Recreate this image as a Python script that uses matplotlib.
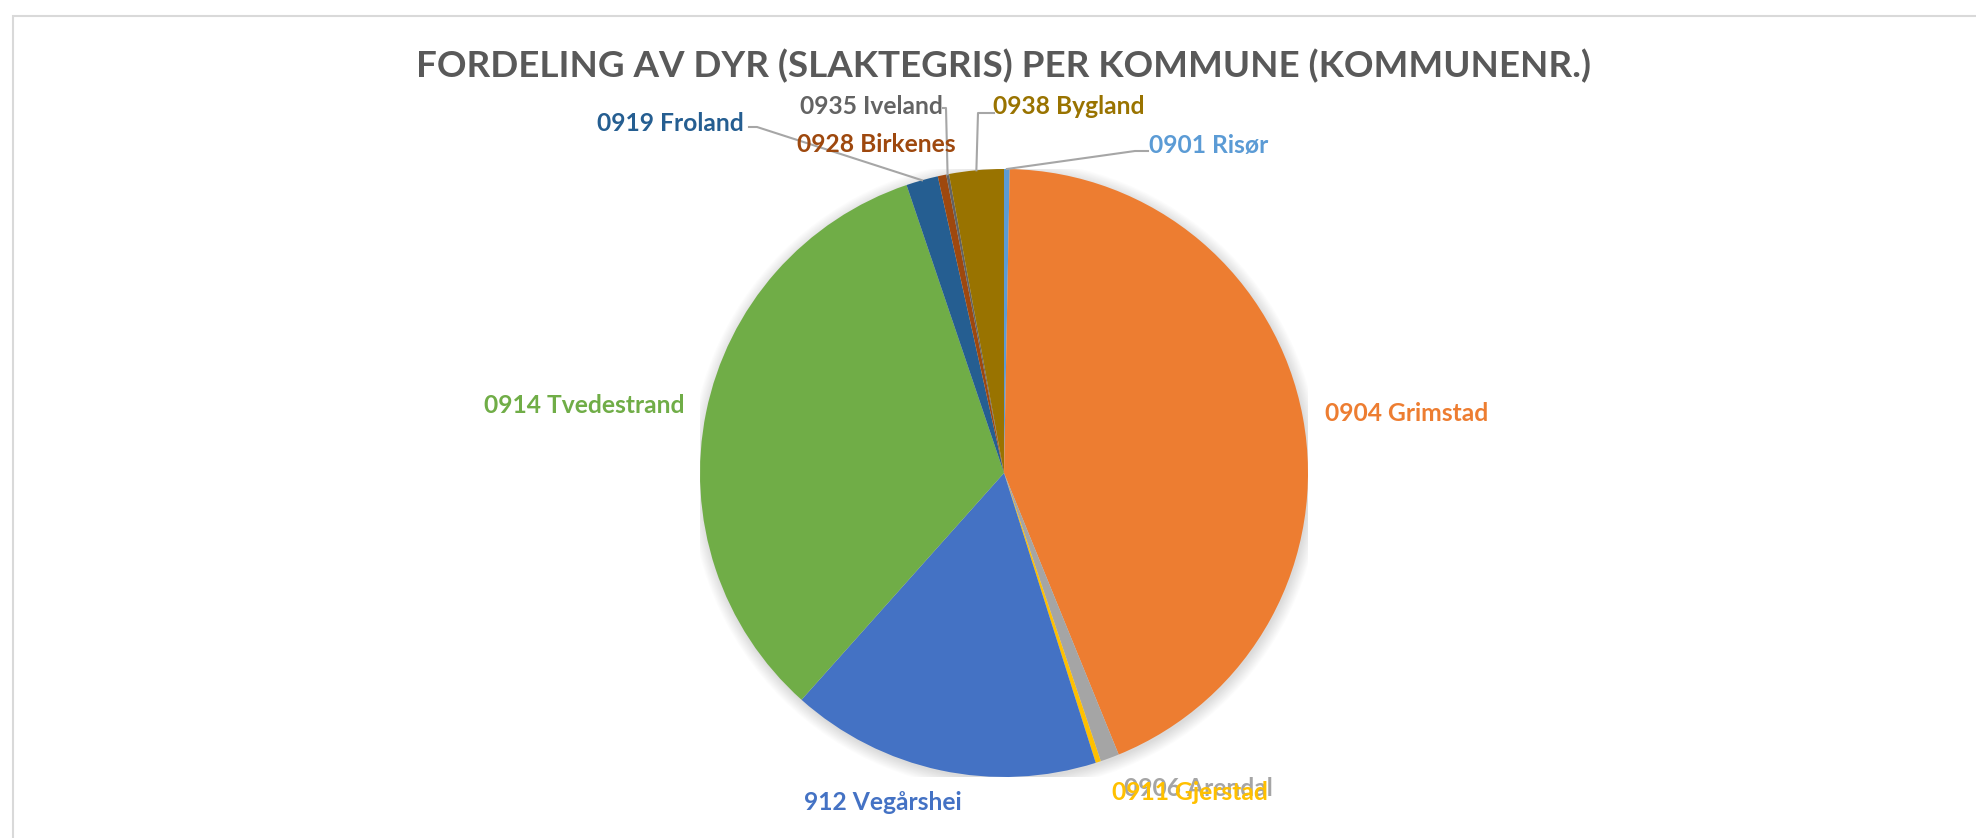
import matplotlib
matplotlib.use("Agg")
import matplotlib.pyplot as plt
from matplotlib.patches import Rectangle, Circle
import numpy as np

'''Data - andel slaktegris per kommune (prosent, lest av figuren)'''
kommuner = [
    "0901 Risør",
    "0904 Grimstad",
    "0906 Arendal",
    "0911 Gjerstad",
    "912 Vegårshei",
    "0914 Tvedestrand",
    "0919 Froland",
    "0928 Birkenes",
    "0935 Iveland",
    "0938 Bygland",
]
andel = [0.3, 43.6, 1.0, 0.28, 16.5, 33.25, 1.7, 0.45, 0.15, 2.9]
tittel = "FORDELING AV DYR (SLAKTEGRIS) PER KOMMUNE (KOMMUNENR.)"

# Office colours
farger = [
    "#5B9BD5", "#ED7D31", "#A5A5A5", "#FFC000", "#4472C4",
    "#70AD47", "#255E91", "#9E480E", "#636363", "#997300",
]

# label centres in pixels and elbow of leader line (None = no leader)
label_pos = [
    (1209, 145), (1407, 413), (1198, 788), (1190, 793), (883, 802),
    (584, 405), (670, 123), (876, 144), (871, 106), (1069, 106),
]
elbows = [
    [(1148, 151), (1135, 151)], None, None, None, None,
    None, [(749, 127), (757, 127)], None, [(943, 108), (946, 108)], [(994, 113), (978, 113)],
]

W, H = 1976, 838
cx, cy, r = 1004, 473, 304

plt.rcParams["font.family"] = ["Lato", "DejaVu Sans"]

fig = plt.figure(figsize=(W / 100, H / 100), dpi=100)
fig.patch.set_facecolor("white")

# chart frame, cropped on right/bottom
fig.add_artist(Rectangle((13 / W, -0.1), 2, 1 - 16 / H + 0.1, transform=fig.transFigure,
                         fill=False, edgecolor="#D9D9D9", lw=1.5))

ax = fig.add_axes([(cx - r) / W, (H - cy - r) / H, 2 * r / W, 2 * r / H])

# soft shadow
for i in range(12):
    ax.add_patch(Circle((0.004, -0.008), 1 + 0.0035 * i, color="black", alpha=0.012, lw=0, zorder=0))

wedges, _ = ax.pie(andel, colors=farger, startangle=90, counterclock=False, radius=1,
                   wedgeprops=dict(linewidth=0, zorder=2))
ax.set_xlim(-1, 1)
ax.set_ylim(-1, 1)
ax.axis("off")


def to_data(p):
    return ((p[0] - cx) / r, (cy - p[1]) / r)


for w, name, col, pos, elb in zip(wedges, kommuner, farger, label_pos, elbows):
    x, y = to_data(pos)
    ax.text(x, y, name, ha="center", va="center", color=col, fontsize=17.7,
            fontweight="bold", clip_on=False, zorder=5)
    if elb is not None:
        theta = np.deg2rad((w.theta1 + w.theta2) / 2)
        pts = [to_data(p) for p in elb] + [(np.cos(theta), np.sin(theta))]
        xs, ys = zip(*pts)
        ax.plot(xs, ys, color="#A6A6A6", lw=1.5, clip_on=False, zorder=4)

fig.text(1003 / W, 1 - 66 / H, tittel, ha="center", va="center", fontsize=26.5,
         fontweight="bold", color="#595959")

fig.savefig("out.png", dpi=100)
